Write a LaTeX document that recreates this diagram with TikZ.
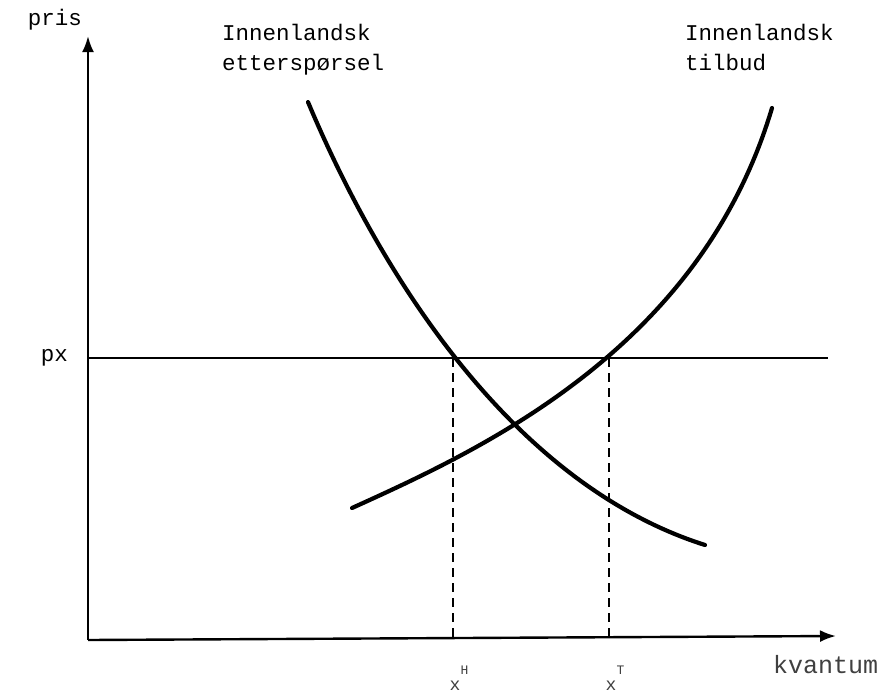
\documentclass[tikz,border=0pt]{standalone}
\usepackage{fontspec}
\setmonofont{Liberation Mono}
\usetikzlibrary{arrows.meta, positioning}

\begin{document}
\begin{tikzpicture}[
    x=1pt, y=-1pt,
    axis/.style={line width=2.4pt, -{Latex[length=16pt, width=12pt]}},
    curve/.style={line width=4.2pt, line cap=round},
    guide/.style={line width=1.8pt, dash pattern=on 9pt off 6pt},
    lbl/.style={font=\ttfamily\fontsize{22.5}{30}\selectfont, inner sep=0pt, align=left},
    faint/.style={font=\ttfamily\fontsize{18}{22}\selectfont, inner sep=0pt, text=black!75}
]
\useasboundingbox (0,0) rectangle (889,694);

% Axes
\coordinate (O) at (88,640);
\coordinate (Ytop) at (88,36);
\coordinate (Xend) at (836,636);
\draw[axis] (O) -- (Ytop);
\draw[axis] (O) -- (Xend);

% Price line px
\coordinate (pxL) at (88,358);
\coordinate (pxR) at (828,358);
\draw[line width=2.2pt] (pxL) -- (pxR);

% Domestic demand (etterspørsel)
\coordinate (D0) at (308,102);
\coordinate (D1) at (705,545);
\draw[curve] (D0) .. controls (370,250) and (500,480) .. (D1);

% Domestic supply (tilbud)
\coordinate (S0) at (352,508);
\coordinate (S1) at (772,108);
\draw[curve] (S0) .. controls (480,450) and (700,350) .. (S1);

% Quantities at px
\coordinate (H) at (453,358);
\coordinate (Hb) at (453,640);
\coordinate (T) at (609,358);
\coordinate (Tb) at (609,640);
\draw[guide] (H) -- (Hb);
\draw[guide] (T) -- (Tb);

% Labels
\node[lbl, anchor=east] (pris) at (82,20) {pris};
\node[lbl, anchor=east] (px) at (68,358) {px};
\node[lbl, anchor=north west] (dem) at (222,24) {Innenlandsk\\etterspørsel};
\node[lbl, anchor=north west] (sup) at (685,24) {Innenlandsk\\tilbud};
\node[faint, font=\ttfamily\fontsize{25}{25}\selectfont, anchor=west] (kv) at (773,665) {kvantum};
\node[faint, anchor=south] (xH) at (459,691) {x\raisebox{16pt}{\fontsize{13}{13}\selectfont H}};
\node[faint, anchor=south] (xT) at (615,691) {x\raisebox{16pt}{\fontsize{13}{13}\selectfont T}};

\end{tikzpicture}
\end{document}
